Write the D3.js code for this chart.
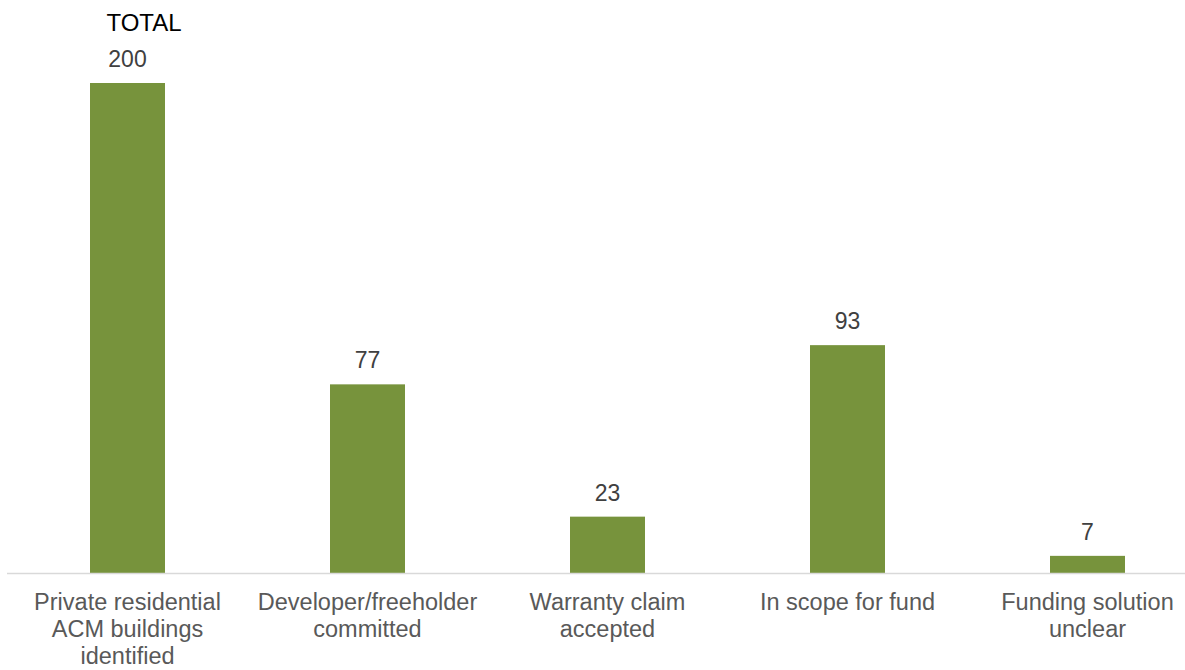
<!DOCTYPE html>
<html>
<head>
<meta charset="utf-8">
<script src="https://cdn.jsdelivr.net/npm/d3@7"></script>
<style>
  body { margin: 0; background: #fff; }
  text { font-family: "Liberation Sans", Arial, sans-serif; }
</style>
</head>
<body>
<div id="chart"></div>
<script>
var categories = [
  ["Private residential", "ACM buildings", "identified"],
  ["Developer/freeholder", "committed"],
  ["Warranty claim", "accepted"],
  ["In scope for fund"],
  ["Funding solution", "unclear"]
];
var values = [200, 77, 23, 93, 7];
var title = "TOTAL";

var width = 1185, height = 670,
    baseY = 573, topY = 83;

var svg = d3.select("#chart").append("svg")
    .attr("width", width)
    .attr("height", height);

var x = d3.scaleBand()
    .domain(d3.range(values.length))
    .range([7.5, 1207.5])
    .paddingInner(0.6875)
    .paddingOuter(0.34375);

var y = d3.scaleLinear()
    .domain([0, 200])
    .range([baseY, topY]);

// bars
svg.selectAll(".bar")
    .data(values)
    .enter().append("rect")
    .attr("class", "bar")
    .attr("x", function(d, i) { return x(i); })
    .attr("y", function(d) { return y(d); })
    .attr("width", x.bandwidth())
    .attr("height", function(d) { return baseY - y(d); })
    .style("fill", "#77933c");

// axis line
svg.append("line")
    .attr("x1", 7).attr("x2", width)
    .attr("y1", baseY + 0.5).attr("y2", baseY + 0.5)
    .style("stroke", "#d9d9d9")
    .style("stroke-width", 1.5);

// value labels
svg.selectAll(".val")
    .data(values)
    .enter().append("text")
    .attr("class", "val")
    .attr("x", function(d, i) { return x(i) + x.bandwidth() / 2; })
    .attr("y", function(d) { return y(d) - 16; })
    .attr("text-anchor", "middle")
    .style("font-size", "23px")
    .style("fill", "#404040")
    .text(function(d) { return d; });

// category labels
var cat = svg.selectAll(".cat")
    .data(categories)
    .enter().append("text")
    .attr("class", "cat")
    .attr("text-anchor", "middle")
    .style("font-size", "23.5px")
    .style("fill", "#595959");

cat.selectAll("tspan")
    .data(function(d, i) { return d.map(function(t) { return {t: t, i: i}; }); })
    .enter().append("tspan")
    .attr("x", function(d) { return x(d.i) + x.bandwidth() / 2; })
    .attr("y", function(d, j) { return 610 + j * 27; })
    .text(function(d) { return d.t; });

// title
svg.append("text")
    .attr("x", 144)
    .attr("y", 31)
    .attr("text-anchor", "middle")
    .style("font-size", "24px")
    .style("fill", "#000")
    .text(title);
</script>
</body>
</html>
